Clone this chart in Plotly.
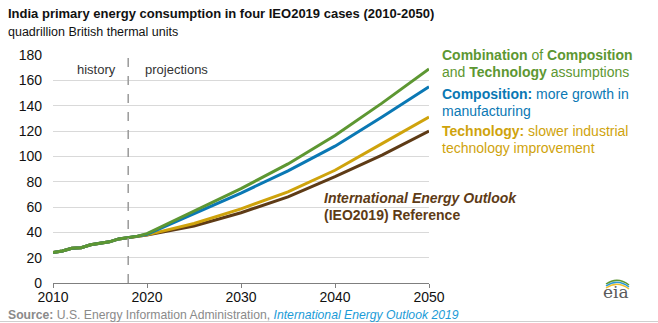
import plotly.graph_objects as go

# ---- data ----
hist_years = [2010, 2011, 2012, 2013, 2014, 2015, 2016, 2017, 2018, 2019]
hist_vals = [24.0, 25.3, 27.4, 27.9, 30.2, 31.4, 32.5, 34.8, 35.8, 37.0]

proj_years = [2020, 2025, 2030, 2035, 2040, 2045, 2050]
reference = [37.8, 45.0, 55.5, 68.0, 84.0, 101.0, 120.0]
technology = [38.0, 47.0, 58.5, 72.0, 89.0, 110.0, 131.0]
composition = [38.5, 55.0, 71.0, 88.5, 108.0, 131.0, 155.0]
combination = [39.0, 57.0, 74.5, 94.0, 116.5, 142.0, 169.0]

x_ticks = [2010, 2020, 2030, 2040, 2050]
y_ticks = [0, 20, 40, 60, 80, 100, 120, 140, 160, 180]

# colors
C_GREEN = "#5D9732"
C_BLUE = "#0A78B4"
C_GOLD = "#CFA30C"
C_BROWN = "#5E3B16"
C_SRC = "#1A9BD7"

FONT = "Liberation Sans, Arial, sans-serif"

# plot area in pixels
W, H = 658, 323
L, R, T, B = 53, 229, 55, 40
PW, PH = W - L - R, H - T - B


def px(x):
    return (x - L) / PW


def py(y):
    return (H - B - y) / PH


fig = go.Figure()
series = [
    (reference, C_BROWN),
    (technology, C_GOLD),
    (composition, C_BLUE),
    (combination, C_GREEN),
]
for vals, col in series:
    fig.add_trace(go.Scatter(
        x=hist_years + proj_years, y=hist_vals + vals, mode="lines",
        line=dict(color=col, width=3), hoverinfo="skip", showlegend=False))

fig.update_layout(
    width=W, height=H,
    margin=dict(l=L, r=R, t=T, b=B),
    paper_bgcolor="white", plot_bgcolor="white",
    font=dict(family=FONT, size=13, color="#222"),
    showlegend=False,
)
fig.update_xaxes(
    range=[2010, 2050], tickvals=x_ticks, ticktext=[str(v) for v in x_ticks],
    showgrid=False, showline=True, linecolor="#7f7f7f", linewidth=1,
    ticks="outside", ticklen=4, tickcolor="#7f7f7f", ticklabelstandoff=-3,
    tickfont=dict(size=14, color="#111"), zeroline=False, fixedrange=True)
fig.update_yaxes(
    range=[0, 180], tickvals=y_ticks, ticktext=[str(v) for v in y_ticks],
    showgrid=True, gridcolor="#d9d9d9", gridwidth=1, zeroline=False,
    showline=False, ticks="", ticklabelstandoff=10,
    tickfont=dict(size=14, color="#111"), fixedrange=True)

# history/projections divider
fig.add_shape(type="line", x0=2018, x1=2018, y0=0, y1=180, xref="x", yref="y",
              line=dict(color="#9a9a9a", width=1.5, dash="dash"), layer="above")

ann = []


def text(x, y, s, size=13, color="#222", xanchor="left"):
    ann.append(dict(x=px(x), y=py(y), xref="paper", yref="paper", text=s,
                    showarrow=False, xanchor=xanchor, yanchor="middle",
                    font=dict(family=FONT, size=size, color=color)))


text(6, 13, "<b>India primary energy consumption in four IEO2019 cases (2010-2050)</b>", 13, "#111")
text(6, 32, "quadrillion British thermal units", 12.5, "#111")
text(96, 69, "history", 13, "#333", "center")
text(143, 69, "projections", 13, "#333")

text(440, 55, "<b>Combination</b> of <b>Composition</b>", 14, C_GREEN)
text(440, 72, "and <b>Technology</b> assumptions", 14, C_GREEN)
text(440, 94, "<b>Composition:</b> more growth in", 14, C_BLUE)
text(440, 111, "manufacturing", 14, C_BLUE)
text(440, 131, "<b>Technology:</b> slower industrial", 14, C_GOLD)
text(440, 148, "technology improvement", 14, C_GOLD)
text(322, 198, "<b><i>International Energy Outlook</i></b>", 14, C_BROWN)
text(322, 215, "<b>(IEO2019) Reference</b>", 14, C_BROWN)

text(6, 315, "<b>Source:</b> U.S. Energy Information Administration, "
     f"<i><span style='color:{C_SRC}'>International Energy Outlook 2019</span></i>",
     12.2, "#8a8a8a")

# eia logo
text(616, 292, "eia", 17, "#5a5a5a", "center")
ann[-1]["font"]["family"] = "DejaVu Serif, Liberation Serif, serif"

fig.update_layout(annotations=ann)

shapes_extra = []
for (dy, col) in [(0, "#F2C12E"), (2, "#2C9AD6"), (4, "#5D9732")]:
    x0, x1 = 606, 629
    y0 = 288 - dy
    shapes_extra.append(dict(
        type="path", xref="paper", yref="paper",
        path=f"M {px(x0)},{py(y0)} Q {px((x0 + x1) / 2)},{py(y0 - 8)} {px(x1)},{py(y0 + 1)}",
        line=dict(color=col, width=1.5)))
shapes_extra.append(dict(type="line", xref="paper", yref="paper",
                         x0=px(0), x1=px(W), y0=py(321.5), y1=py(321.5),
                         line=dict(color="#cfcfcf", width=1)))
for s in shapes_extra:
    fig.add_shape(**s)

fig.write_html("out.html")
